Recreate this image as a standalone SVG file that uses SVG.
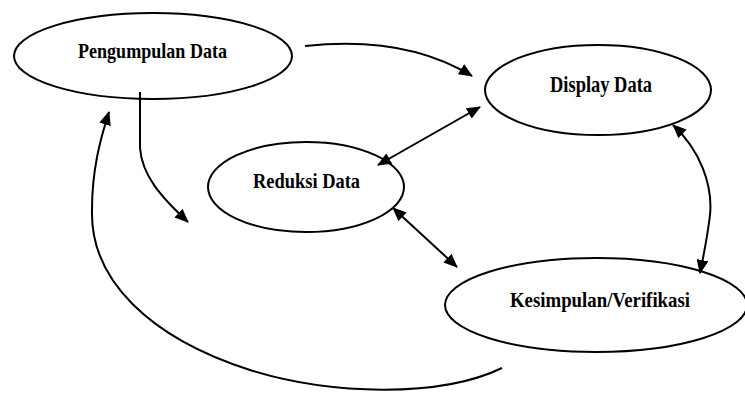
<svg xmlns="http://www.w3.org/2000/svg" width="745" height="396" viewBox="0 0 745 396">
  <style>
    .node ellipse { fill: #fff; stroke: #000; stroke-width: 2; }
    .node text { font-family: "Liberation Serif", "Times New Roman", serif; font-weight: bold; font-size: 22px; fill: #000; text-anchor: start; }
    .edge { fill: none; stroke: #000; stroke-width: 2; }
  </style>
  <defs>
    <marker id="arrow" viewBox="0 0 14 12" refX="13" refY="6" markerWidth="14" markerHeight="12" markerUnits="userSpaceOnUse" orient="auto-start-reverse">
      <path d="M0,0 L14,6 L0,12 Z" fill="#000"/>
    </marker>
  </defs>
  <rect width="745" height="396" fill="#fff"/>

  <g id="node-pengumpulan" class="node">
    <ellipse cx="153" cy="56" rx="139" ry="43"/>
    <text x="78" y="58" textLength="149" lengthAdjust="spacingAndGlyphs">Pengumpulan Data</text>
  </g>

  <g id="node-display" class="node">
    <ellipse cx="598" cy="90" rx="113" ry="45"/>
    <text x="550" y="92" textLength="102" lengthAdjust="spacingAndGlyphs" style="font-size:24px">Display Data</text>
  </g>

  <g id="node-reduksi" class="node">
    <ellipse cx="306" cy="187" rx="98" ry="45"/>
    <text x="253" y="188" textLength="107" lengthAdjust="spacingAndGlyphs">Reduksi Data</text>
  </g>

  <g id="node-kesimpulan" class="node">
    <ellipse cx="596" cy="305" rx="151" ry="47"/>
    <text x="510" y="307" textLength="180" lengthAdjust="spacingAndGlyphs">Kesimpulan/Verifikasi</text>
  </g>

  <g id="connectors">
    <path class="edge" d="M305,46 C360,40 420,44 472,76" marker-end="url(#arrow)"/>
    <path class="edge" d="M140,92 L140,148 C142,175 160,196 188,222" marker-end="url(#arrow)"/>
    <path class="edge" d="M502,368 C440,398 330,395 250,370 C150,338 90,280 92,210 C92,170 100,140 109,112" marker-end="url(#arrow)"/>
    <path class="edge" d="M378,165 L480,107" marker-start="url(#arrow)" marker-end="url(#arrow)"/>
    <path class="edge" d="M393,208 L457,267" marker-start="url(#arrow)" marker-end="url(#arrow)"/>
    <path class="edge" d="M673,125 C700,150 713,185 710,215 C707,240 703,258 700,273" marker-start="url(#arrow)" marker-end="url(#arrow)"/>
  </g>
</svg>
